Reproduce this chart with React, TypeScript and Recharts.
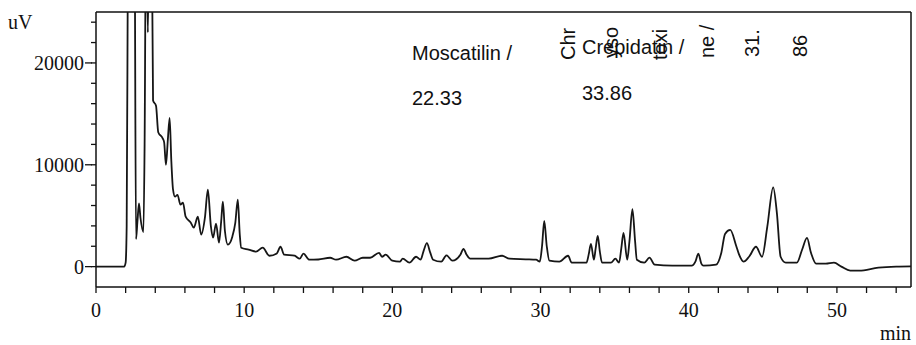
import React from 'react';
import { LineChart, Line, XAxis, YAxis, ReferenceLine, Customized } from 'recharts';

// Retention time (min) and detector signal (uV)
const retentionTimes = [
  0, 1.9, 2.0, 2.07, 2.15, 2.4, 2.62, 2.7, 2.8, 2.9, 3.0, 3.2, 3.28, 3.38, 3.5, 3.6, 3.75, 3.85,
  4.05, 4.2, 4.5, 4.6, 4.72, 4.85, 4.97, 5.08, 5.2, 5.33, 5.5, 5.7, 5.87, 6.05, 6.4, 6.6, 6.87,
  7.1, 7.35, 7.55, 7.75, 7.9, 8.1, 8.3, 8.45, 8.56, 8.7, 8.9, 9.2, 9.4, 9.57, 9.7, 9.8, 10.3,
  10.8, 11.25, 11.7, 12.2, 12.45, 12.7, 13.4, 13.75, 14.0, 14.4, 15.0, 15.8, 16.2, 16.9, 17.45,
  18.0, 18.5, 19.1, 19.3, 19.55, 20.0, 20.5, 20.7, 21.15, 21.6, 21.9, 22.1, 22.33, 22.55, 22.75,
  23.3, 23.65, 24.05, 24.6, 24.8, 25.0, 25.25, 26.5, 27.4, 27.9, 29.0, 29.7, 29.95, 30.1, 30.25,
  30.42, 30.6, 31.27, 31.86, 32.1, 33.1, 33.25, 33.4, 33.6, 33.72, 33.86, 34.0, 34.15, 34.75,
  35.05, 35.3, 35.45, 35.6, 35.85, 36.0, 36.2, 36.38, 36.5, 37.0, 37.35, 37.7, 38.9, 40.2, 40.45,
  40.65, 40.85, 41.0, 41.85, 42.2, 42.45, 42.8, 43.2, 43.4, 43.7, 44.07, 44.54, 44.95, 45.3, 45.7,
  45.95, 46.2, 46.55, 47.3, 47.65, 47.98, 48.25, 48.6, 49.25, 49.8, 50.3, 50.9, 51.5, 52.8, 54.0,
  55.0,
];

const signalUV = [
  0, 0, 400, 4000, 30000, 90000, 30000, 2700, 4500, 6200, 4800, 3400, 12000, 35000, 23000, 35000, 35000, 16300,
  15800, 13200, 12600, 12200, 10000, 12500, 14600, 10500, 7550, 6870, 7050, 6080, 6280, 4900, 4320, 3830, 4900,
  3140, 4800, 7550, 4000, 2840, 4220, 2350, 4500, 6370, 3500, 2160, 2940, 4300, 6570, 3200, 1860, 1670,
  1470, 1860, 1070, 1300, 1950, 1170, 1070, 780, 1270, 680, 700, 870, 680, 970, 580,
  870, 870, 1360, 970, 1170, 580, 490, 780, 390, 970, 680, 1500, 2300, 1400, 680,
  490, 1100, 580, 1200, 1750, 1200, 780, 780, 1070, 780, 720, 680, 490, 2000, 4480,
  2000, 580, 490, 1070, 390, 390, 1200, 2240, 680, 1800, 3020, 1500, 390, 390,
  780, 390, 1800, 3310, 680, 2500, 5650, 2500, 680, 390, 880, 195, 100, 100, 500,
  1270, 300, 100, 195, 1360, 3210, 3600, 2050, 1170, 490, 970, 1950, 970, 3900, 7790,
  5260, 970, 390, 390, 1660, 2820, 1360, 290, 290, 390, 0, -390, -390, -100, 0,
  20,
];

const xTicks = [0, 2, 4, 6, 8, 10, 12, 14, 16, 18, 20, 22, 24, 26, 28, 30, 32, 34, 36, 38, 40, 42, 44, 46, 48, 50, 52, 54];
const xTickLabels = [0, 10, 20, 30, 40, 50];
const yTicks = [0, 2000, 4000, 6000, 8000, 10000, 12000, 14000, 16000, 18000, 20000, 22000, 24000];
const yTickLabels = [0, 10000, 20000];

// Compound annotations
const compoundNames = ['Moscatilin', 'Crepidatin', 'Chrysotoxine'];
const compoundTimes = ['22.33', '33.86', '31.86'];
const chrysotoxineChunks = [3, 3, 4, 4, 4, 2];

const data = retentionTimes.map((t, i) => ({ t, uV: signalUV[i] }));

const SERIF = '"Liberation Serif", "Times New Roman", serif';
const SANS = '"Liberation Sans", Arial, sans-serif';
const INK = '#111';

const YTick = (props: any) => {
  const { x, y, payload } = props;
  if (!yTickLabels.includes(payload.value)) return null;
  return (
    <g>
      <line x1={x + 1} x2={x + 8} y1={y} y2={y} stroke={INK} strokeWidth={1.3} />
      <text x={x} y={y} dy="0.36em" textAnchor="end" fontFamily={SERIF} fontSize={20} fill={INK}>
        {payload.value}
      </text>
    </g>
  );
};

const XTick = (props: any) => {
  const { x, y, payload } = props;
  if (!xTickLabels.includes(payload.value)) return null;
  return (
    <text x={x} y={y + 24} textAnchor="middle" fontFamily={SERIF} fontSize={20} fill={INK}>
      {payload.value}
    </text>
  );
};

const splitChunks = (s: string, sizes: number[]) => {
  const out: string[] = [];
  let p = 0;
  sizes.forEach((n) => {
    out.push(s.slice(p, p + n).trim());
    p += n;
  });
  return out;
};

const Annotations = () => {
  const chrysLabel = `${compoundNames[2]} / ${compoundTimes[2]}`;
  const pieces = splitChunks(chrysLabel, chrysotoxineChunks);
  const pieceX = [575, 618, 667, 714, 759, 807];
  const pieceY = [60, 58, 60, 58, 57, 57];
  return (
    <g fontFamily={SANS} fontSize={20} fill={INK}>
      <text x={8} y={29} fontFamily={SERIF}>uV</text>
      <text x={880} y={340} fontFamily={SERIF}>min</text>
      <text x={412} y={60}>{`${compoundNames[0]} /`}</text>
      <text x={412} y={105}>{compoundTimes[0]}</text>
      {pieces.map((p, i) => (
        <text key={i} x={pieceX[i]} y={pieceY[i]} transform={`rotate(-90 ${pieceX[i]} ${pieceY[i]})`}>
          {p}
        </text>
      ))}
      <text x={582} y={54}>{`${compoundNames[1]} /`}</text>
      <text x={582} y={100}>{compoundTimes[1]}</text>
    </g>
  );
};

export default function App() {
  return (
    <div style={{ position: 'absolute', left: 0, top: 0, background: '#fff' }}>
      <LineChart width={916} height={345} data={data} margin={{ top: 12, right: 5, bottom: 0, left: 0 }}>
        <XAxis
          dataKey="t"
          type="number"
          domain={[0, 55]}
          ticks={xTicks}
          interval={0}
          allowDataOverflow
          height={58}
          tickSize={6}
          tickMargin={0}
          axisLine={{ stroke: INK, strokeWidth: 1.5 }}
          tickLine={{ stroke: INK, strokeWidth: 1.3 }}
          tick={<XTick />}
        />
        <YAxis
          type="number"
          domain={[-2000, 25000]}
          ticks={yTicks}
          interval={0}
          allowDataOverflow
          width={96}
          tickSize={5}
          tickMargin={7}
          axisLine={{ stroke: INK, strokeWidth: 1.5 }}
          tickLine={{ stroke: INK, strokeWidth: 1.3 }}
          tick={<YTick />}
        />
        <ReferenceLine y={25000} stroke={INK} strokeWidth={1.5} />
        <ReferenceLine x={55} stroke={INK} strokeWidth={1.5} />
        <Line
          type="monotone"
          dataKey="uV"
          stroke="#161616"
          strokeWidth={1.8}
          dot={false}
          isAnimationActive={false}
        />
        <Customized component={<Annotations />} />
      </LineChart>
    </div>
  );
}
